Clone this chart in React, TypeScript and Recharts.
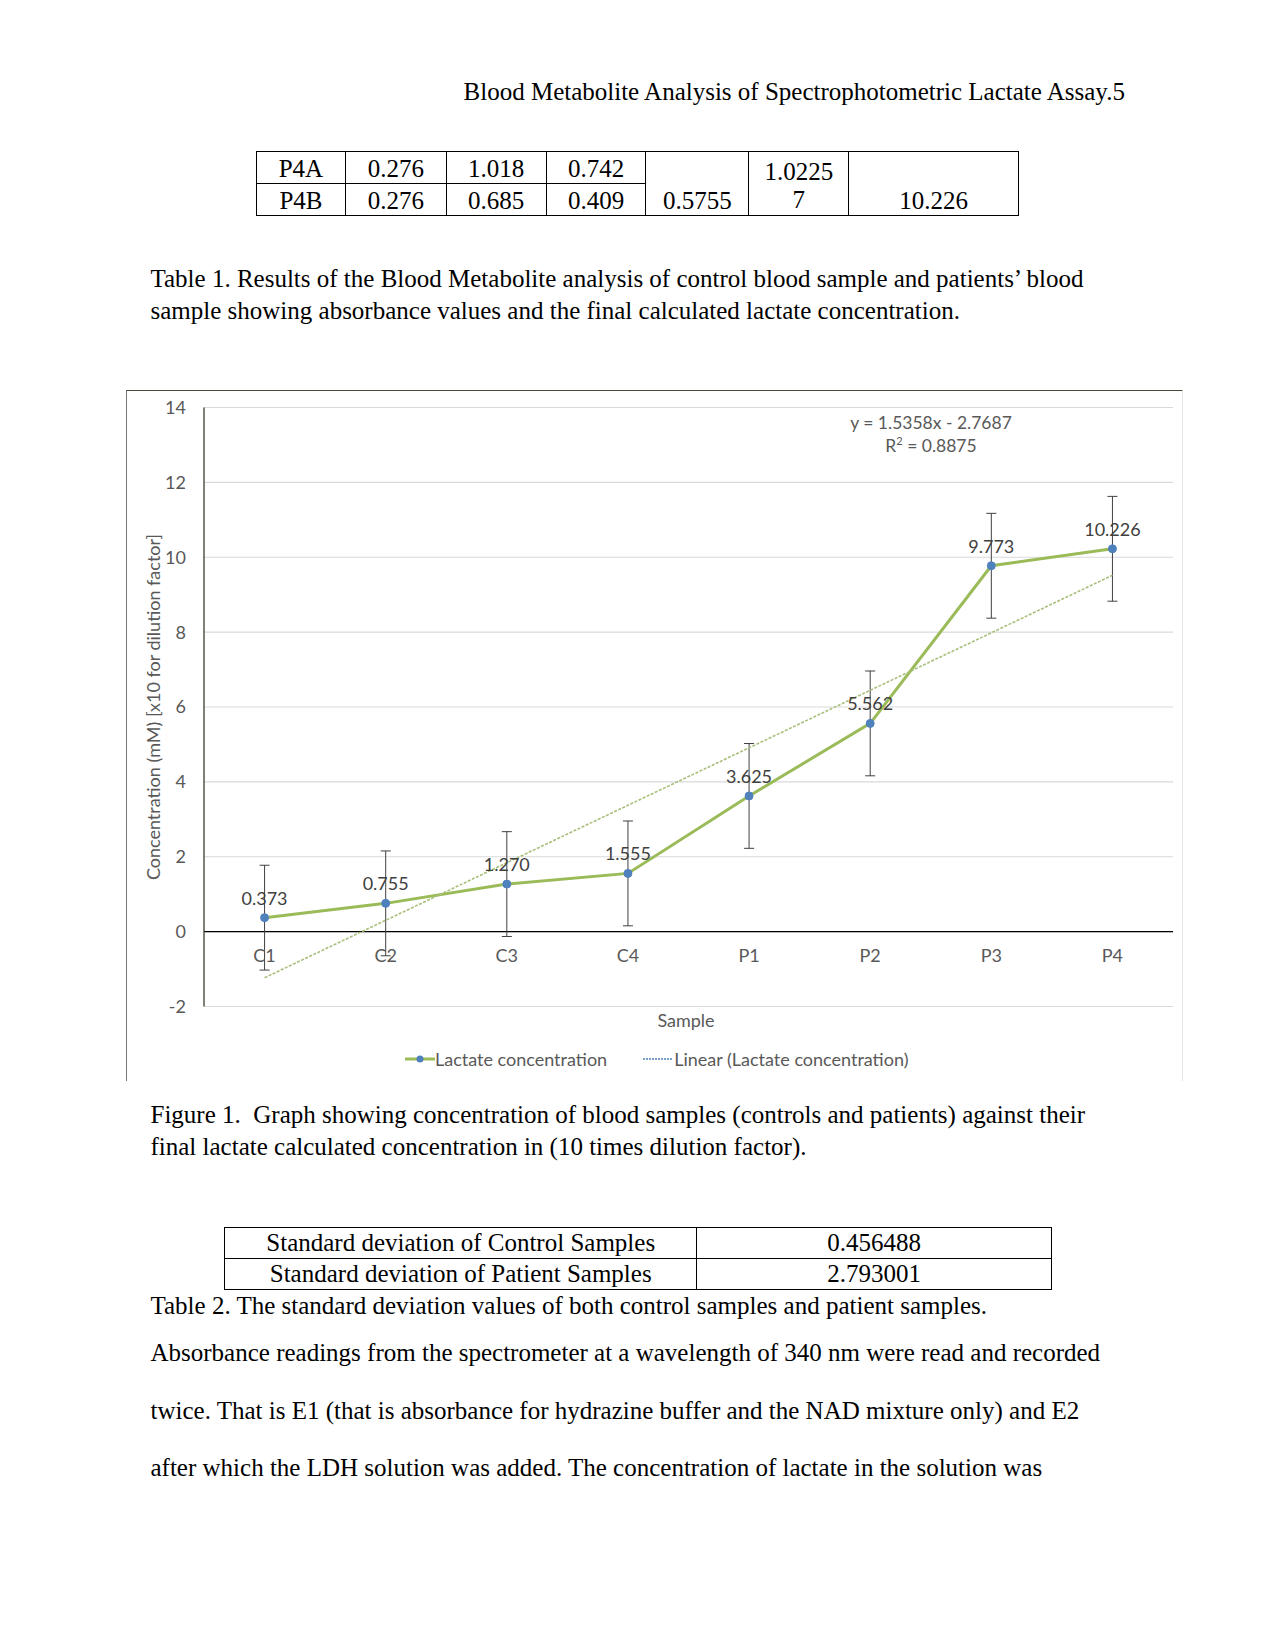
import { ComposedChart, Line, XAxis, YAxis, CartesianGrid, ReferenceLine, ErrorBar, LabelList } from 'recharts';

// chart values
const samples = ['C1', 'C2', 'C3', 'C4', 'P1', 'P2', 'P3', 'P4'];
const lactate = [0.373, 0.755, 1.27, 1.555, 3.625, 5.562, 9.773, 10.226];
const errors = [1.4, 1.4, 1.4, 1.4, 1.4, 1.4, 1.4, 1.4];
// linear trendline values at each sample (y = 1.5358x - 2.7687)
const trend = [-1.233, 0.303, 1.839, 3.375, 4.91, 6.446, 7.982, 9.518];
const yTicks = [-2, 0, 2, 4, 6, 8, 10, 12, 14];

// document tables
const table1Row1 = ['P4A', '0.276', '1.018', '0.742'];
const table1Row2 = ['P4B', '0.276', '0.685', '0.409'];
const table2Labels = ['Standard deviation of Control Samples', 'Standard deviation of Patient Samples'];
const table2Values = ['0.456488', '2.793001'];

const data = samples.map((name, i) => ({ name, value: lactate[i], err: errors[i], trend: trend[i] }));

const CHART_W = 1057;
const CHART_H = 691;
const M = { top: 17.5, right: 10, left: 18, bottom: 44.5 };
const X_AXIS_H = 30;
const plotW = CHART_W - M.left - M.right - 60;
const plotH = CHART_H - M.top - M.bottom - X_AXIS_H;
const ZERO_Y = M.top + (14 / 16) * plotH;
const HALF_BAND = plotW / samples.length / 2;

const serif = '"Liberation Serif", "Times New Roman", serif';
const sans = 'Lato, Carlito, sans-serif';
const axisGrey = '#595959';
const FS = 18;

const CategoryTick = ({ x, payload }: any) => (
  <text x={x} y={ZERO_Y + 24} dy={6} textAnchor="middle" fill={axisGrey} fontSize={FS} fontFamily={sans}>
    {payload.value}
  </text>
);

const ValueLabel = ({ x, y, value }: any) => (
  <text x={x} y={y - 19} dy={6} textAnchor="middle" fill="#404040" fontSize={FS} fontFamily={sans}>
    {Number(value).toFixed(3)}
  </text>
);

const abs = (left: number, top: number, extra: any = {}) => ({ position: 'absolute' as const, left, top, ...extra });

function TextLine({ y, children, left = 150.5 }: { y: number; children: any; left?: number }) {
  return (
    <div style={abs(left, y - 15, { lineHeight: '30px', whiteSpace: 'pre', fontSize: 25, fontFamily: serif })}>
      {children}
    </div>
  );
}

const cell: any = { border: '1px solid #000', textAlign: 'center', padding: 0, fontSize: 25, fontFamily: serif, lineHeight: '28px' };
const topCell: any = { ...cell, paddingTop: 3 };

export default function App() {
  return (
    <div style={{ position: 'absolute', left: 0, top: 0, width: 1275, height: 1651, background: '#fff', color: '#000' }}>
      <div style={abs(150, 77, { width: 975, textAlign: 'right', fontSize: 25, fontFamily: serif, lineHeight: '30px' })}>
        Blood Metabolite Analysis of Spectrophotometric Lactate Assay.5
      </div>

      <table style={abs(256, 150.5, { borderCollapse: 'collapse', width: 763 })}>
        <colgroup>
          {[89, 101, 100, 100, 103, 100, 170].map((w, i) => <col key={i} style={{ width: w }} />)}
        </colgroup>
        <tbody>
          <tr style={{ height: 32 }}>
            {table1Row1.map((t) => <td key={t} style={topCell}>{t}</td>)}
            <td rowSpan={2} style={{ ...cell, verticalAlign: 'bottom' }}>0.5755</td>
            <td rowSpan={2} style={{ ...cell, verticalAlign: 'middle', paddingTop: 5 }}>1.0225<br />7</td>
            <td rowSpan={2} style={{ ...cell, verticalAlign: 'bottom' }}>10.226</td>
          </tr>
          <tr style={{ height: 32 }}>
            {table1Row2.map((t, i) => <td key={i} style={topCell}>{t}</td>)}
          </tr>
        </tbody>
      </table>

      <TextLine y={279}>Table 1. Results of the Blood Metabolite analysis of control blood sample and patients’ blood</TextLine>
      <TextLine y={310.6}>sample showing absorbance values and the final calculated lactate concentration.</TextLine>

      <div style={abs(126, 390, { width: CHART_W, height: CHART_H, boxSizing: 'border-box', borderTop: '1.5px solid #4a4a3c', borderLeft: '1px solid #777', borderRight: '1px solid #e4e4e4' })} />
      <div style={abs(126, 390, { width: CHART_W, height: CHART_H })}>
        <ComposedChart width={CHART_W} height={CHART_H} data={data} margin={M}>
          <CartesianGrid vertical={false} stroke="#d9d9d9" strokeWidth={1.2} />
          <XAxis
            dataKey="name"
            height={X_AXIS_H}
            axisLine={false}
            tickLine={false}
            tick={<CategoryTick />}
            interval={0}
            padding={{ left: HALF_BAND, right: HALF_BAND }}
          />
          <YAxis
            domain={[-2, 14]}
            ticks={yTicks}
            width={60}
            axisLine={{ stroke: '#3c3c30', strokeWidth: 1.3 }}
            tickLine={false}
            tickSize={0}
            tickMargin={18}
            tick={{ fill: axisGrey, fontSize: FS, fontFamily: sans }}
          />
          <ReferenceLine y={0} stroke="#000" strokeWidth={1.4} />
          <Line
            type="linear"
            dataKey="value"
            stroke="#9bbb59"
            strokeWidth={3}
            dot={{ r: 4, fill: '#4f81bd', stroke: '#4f81bd', strokeWidth: 1 }}
            isAnimationActive={false}
          >
            <ErrorBar dataKey="err" width={5} stroke="#404040" strokeWidth={1} direction="y" isAnimationActive={false} />
            <LabelList dataKey="value" content={<ValueLabel />} />
          </Line>
          <Line
            type="linear"
            dataKey="trend"
            stroke="#a9bf7c"
            strokeWidth={1.6}
            strokeDasharray="3 1.5"
            dot={false}
            isAnimationActive={false}
          />
        </ComposedChart>
      </div>

      <div style={abs(126, 712, { width: 54, height: 0 })}>
        <div style={{ position: 'absolute', left: 27, top: -5, transform: 'translate(-50%, -50%) rotate(-90deg)', whiteSpace: 'nowrap', fontFamily: sans, fontSize: FS, color: axisGrey }}>
          Concentration (mM) [x10 for dilution factor]
        </div>
      </div>
      <div style={abs(636, 1009, { width: 100, textAlign: 'center', fontFamily: sans, fontSize: FS, color: axisGrey, lineHeight: '22px' })}>Sample</div>
      <div style={abs(781, 411, { width: 300, textAlign: 'center', fontFamily: sans, fontSize: 17.5, color: axisGrey, lineHeight: '23px' })}>
        y = 1.5358x - 2.7687<br />R<sup style={{ fontSize: 11, verticalAlign: 'top', lineHeight: '14px' }}>2</sup> = 0.8875
      </div>

      <div style={abs(405, 1048, { display: 'flex', alignItems: 'center', fontFamily: sans, fontSize: FS, color: axisGrey, lineHeight: '22px', whiteSpace: 'nowrap' })}>
        <svg width={30} height={10}>
          <line x1={0} y1={5} x2={30} y2={5} stroke="#9bbb59" strokeWidth={3} />
          <circle cx={15} cy={5} r={3.5} fill="#4f81bd" />
        </svg>
        <span>Lactate concentration</span>
        <svg width={29} height={10} style={{ marginLeft: 36 }}>
          <line x1={0} y1={5} x2={29} y2={5} stroke="#4f81bd" strokeWidth={1.3} strokeDasharray="2 1" />
        </svg>
        <span style={{ marginLeft: 2 }}>Linear (Lactate concentration)</span>
      </div>

      <TextLine y={1115}>{'Figure 1.  Graph showing concentration of blood samples (controls and patients) against their'}</TextLine>
      <TextLine y={1146.5}>final lactate calculated concentration in (10 times dilution factor).</TextLine>

      <table style={abs(224, 1226.5, { borderCollapse: 'collapse', width: 828 })}>
        <colgroup>
          <col style={{ width: 473 }} />
          <col style={{ width: 355 }} />
        </colgroup>
        <tbody>
          {table2Labels.map((label, i) => (
            <tr key={label} style={{ height: 31 }}>
              <td style={cell}>{label}</td>
              <td style={cell}>{table2Values[i]}</td>
            </tr>
          ))}
        </tbody>
      </table>

      <TextLine y={1305.5}>Table 2. The standard deviation values of both control samples and patient samples.</TextLine>
      <TextLine y={1353}>Absorbance readings from the spectrometer at a wavelength of 340 nm were read and recorded</TextLine>
      <TextLine y={1411}>twice. That is E1 (that is absorbance for hydrazine buffer and the NAD mixture only) and E2</TextLine>
      <TextLine y={1467.6}>after which the LDH solution was added. The concentration of lactate in the solution was</TextLine>
    </div>
  );
}
